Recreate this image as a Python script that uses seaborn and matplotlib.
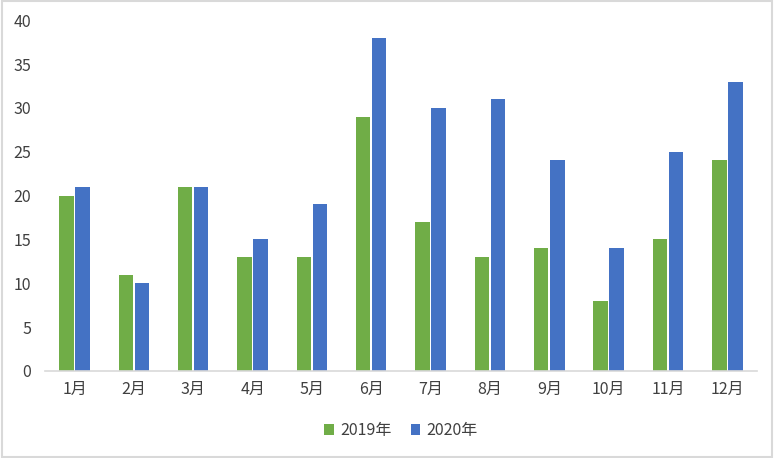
import matplotlib
matplotlib.use("Agg")
import matplotlib.pyplot as plt
import seaborn as sns
import pandas as pd
from matplotlib.patches import Rectangle

months = ["1月", "2月", "3月", "4月", "5月", "6月", "7月", "8月", "9月", "10月", "11月", "12月"]
v2019 = [20, 11, 21, 13, 13, 29, 17, 13, 14, 8, 15, 24]
v2020 = [21, 10, 21, 15, 19, 38, 30, 31, 24, 14, 25, 33]
series = ["2019年", "2020年"]
colors = ["#70AD47", "#4472C4"]

df = pd.DataFrame({
    "month": months * 2,
    "value": v2019 + v2020,
    "year": [series[0]] * 12 + [series[1]] * 12,
})

sns.set_theme(style="white")
plt.rcParams["font.family"] = ["Noto Sans CJK SC", "DejaVu Sans"]

fig = plt.figure(figsize=(7.74, 4.58), dpi=100)
ax = fig.add_axes([0.058, 0.19, 0.92, 0.766])
sns.barplot(data=df, x="month", y="value", hue="year", palette=colors,
            width=0.54, gap=0.1, ax=ax, saturation=1, legend=True, linewidth=0)

ax.set_ylim(0, 40)
ax.set_yticks(range(0, 41, 5))
ax.set_xlim(-0.5, 11.5)
ax.set_xlabel("")
ax.set_ylabel("")
for s in ["top", "right", "left"]:
    ax.spines[s].set_visible(False)
ax.spines["bottom"].set_color("#D9D9D9")
ax.spines["bottom"].set_linewidth(1.2)
ax.tick_params(axis="both", length=0, labelsize=11.5, colors="#404040")
ax.tick_params(axis="x", pad=7)
ax.tick_params(axis="y", pad=10)

leg = ax.legend(loc="upper center", bbox_to_anchor=(0.5, -0.105), ncol=2, frameon=False,
                fontsize=11.5, handlelength=0.6, handleheight=0.6, columnspacing=1.2,
                handletextpad=0.4)
for t in leg.get_texts():
    t.set_color("#404040")

fig.patches.append(Rectangle((0.003, 0.003), 0.994, 0.994, transform=fig.transFigure,
                             fill=False, edgecolor="#D9D9D9", linewidth=1.5))

fig.savefig("out.png", dpi=100)
